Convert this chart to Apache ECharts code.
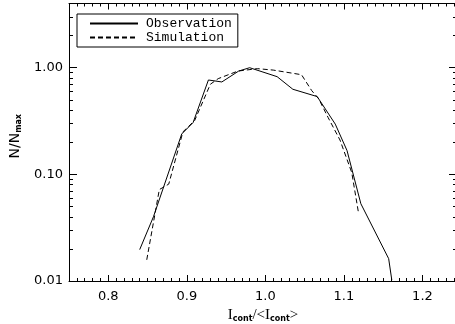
<!DOCTYPE html>
<html>
<head>
<meta charset="utf-8">
<script src="https://cdn.jsdelivr.net/npm/echarts@6/dist/echarts.min.js"></script>
<style>
  html, body { margin: 0; padding: 0; background: #fff; }
  #chart { width: 455px; height: 324px; }
</style>
</head>
<body>
<div id="chart"></div>
<script>
// 观测值 [I/<I>, N/Nmax]
const observation = [
  [0.840, 0.0197], [0.8575, 0.040], [0.8935, 0.239], [0.908, 0.306],
  [0.9275, 0.767], [0.9446, 0.735], [0.966, 0.93], [0.980, 1.0],
  [1.015, 0.824], [1.035, 0.628], [1.066, 0.536], [1.089, 0.296],
  [1.104, 0.167], [1.1216, 0.053], [1.157, 0.0162], [1.161, 0.0102]
]
// 模拟值
const simulation = [
  [0.849, 0.0158], [0.865, 0.072], [0.877, 0.081], [0.895, 0.25],
  [0.910, 0.32], [0.930, 0.70], [0.940, 0.79], [0.965, 0.93],
  [0.990, 0.98], [1.010, 0.95], [1.046, 0.86], [1.059, 0.61],
  [1.068, 0.51], [1.080, 0.34], [1.095, 0.21], [1.110, 0.104],
  [1.1185, 0.044]
]
const xTicks = [0.8, 0.9, 1.0, 1.1, 1.2]
const yTicks = [0.01, 0.1, 1]
const yMinorTicks = [0.02, 0.03, 0.04, 0.05, 0.06, 0.07, 0.08, 0.09,
  0.2, 0.3, 0.4, 0.5, 0.6, 0.7, 0.8, 0.9, 2, 3, 4]

const X_MIN = 0.75
const X_MAX = 1.244
const Y_MIN = 0.01
const Y_MAX = 4

let myChart = echarts.init(document.getElementById('chart'))

const black = '#000'
const sans = 'DejaVu Sans'

// x轴
function xAxisOf (pos, major, labels) {
  return {
    type: 'value',
    position: pos,
    min: X_MIN,
    max: X_MAX,
    interval: major ? undefined : 0.01,
    axisLine: { show: major, lineStyle: { color: black, width: 1 } },
    axisTick: major
      ? { inside: true, length: 6, customValues: xTicks, lineStyle: { color: black } }
      : { inside: true, length: 3, lineStyle: { color: black } },
    axisLabel: labels
      ? { show: true, customValues: xTicks, color: black, fontFamily: sans, fontSize: 13, margin: 9,
          formatter: v => v.toFixed(1) }
      : { show: false },
    splitLine: { show: false },
    name: labels ? '{i|I}{s|cont}{i|/<I}{s|cont}{i|>}' : '',
    nameLocation: 'middle',
    nameGap: 22,
    nameTextStyle: {
      rich: {
        i: { fontFamily: 'Liberation Serif', fontSize: 15, color: black },
        s: { fontFamily: sans, fontWeight: 'bold', fontSize: 8, color: black, padding: [8, 0, 0, 0] }
      }
    }
  }
}

// y轴
function yAxisOf (pos, major, labels) {
  return {
    type: 'log',
    logBase: 10,
    position: pos,
    min: Y_MIN,
    max: Y_MAX,
    axisLine: { show: major, lineStyle: { color: black, width: 1 } },
    axisTick: {
      inside: true,
      length: major ? 8 : 4,
      customValues: major ? yTicks : yMinorTicks,
      lineStyle: { color: black }
    },
    axisLabel: labels
      ? { show: true, customValues: yTicks, color: black, fontFamily: sans, fontSize: 13, margin: 6,
          formatter: v => Number(v).toFixed(2) }
      : { show: false },
    splitLine: { show: false },
    minorTick: { show: false },
    name: labels ? '{n|N/N}{s|max}' : '',
    nameLocation: 'middle',
    nameGap: 39,
    nameTextStyle: {
      padding: [0, 0, 0, 12],
      rich: {
        n: { fontFamily: sans, fontSize: 14, color: black },
        s: { fontFamily: sans, fontWeight: 'bold', fontSize: 8, color: black, padding: [8, 0, 0, 0] }
      }
    }
  }
}

myChart.setOption({
  animation: false,
  backgroundColor: '#fff',
  grid: { left: 69, top: 3.5, width: 388, bottom: 43, outerBoundsMode: 'none', containLabel: false },
  legend: {
    orient: 'vertical',
    left: 77,
    top: 14,
    padding: [3, 6, 3, 12],
    borderColor: black,
    borderWidth: 1,
    itemWidth: 48,
    itemHeight: 10,
    itemGap: 1,
    itemStyle: { opacity: 0 },
    data: ['Observation', 'Simulation'],
    textStyle: { fontFamily: 'Liberation Mono', fontSize: 13, color: black, padding: [0, 0, 0, 3] }
  },
  xAxis: [
    xAxisOf('bottom', true, true),
    xAxisOf('bottom', false, false),
    xAxisOf('top', true, false),
    xAxisOf('top', false, false)
  ],
  yAxis: [
    yAxisOf('left', true, true),
    yAxisOf('left', false, false),
    yAxisOf('right', true, false),
    yAxisOf('right', false, false)
  ],
  series: [
    {
      name: 'Observation',
      type: 'line',
      data: observation,
      showSymbol: false,
      symbol: 'none',
      lineStyle: { color: black, width: 1 },
      itemStyle: { color: black }
    },
    {
      name: 'Simulation',
      type: 'line',
      data: simulation,
      showSymbol: false,
      symbol: 'none',
      lineStyle: { color: black, width: 1, type: [5, 3] },
      itemStyle: { color: black }
    }
  ]
})
</script>
</body>
</html>
